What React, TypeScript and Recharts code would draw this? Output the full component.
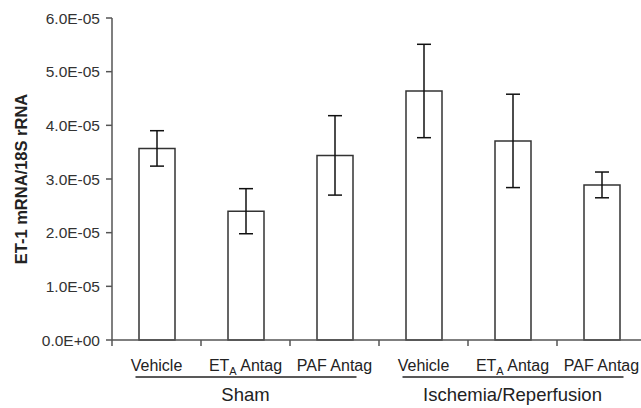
import { BarChart, Bar, XAxis, YAxis, ErrorBar } from 'recharts';

// treatment labels, in bar order
const treatments = ['Vehicle', 'ETA Antag', 'PAF Antag', 'Vehicle', 'ETA Antag', 'PAF Antag'];
// group names (each spans 3 bars)
const groups = ['Sham', 'Ischemia/Reperfusion'];
// ET-1 mRNA / 18S rRNA, mean and error
const means = [3.57e-5, 2.4e-5, 3.44e-5, 4.64e-5, 3.71e-5, 2.89e-5];
const errors = [0.33e-5, 0.42e-5, 0.74e-5, 0.87e-5, 0.87e-5, 0.24e-5];
const yTicks = [0, 1e-5, 2e-5, 3e-5, 4e-5, 5e-5, 6e-5];

const data = treatments.map((t, i) => ({ name: t, value: means[i], err: errors[i] }));

const BAND = 89;

function fmtSci(v: number) {
  const [m, e] = v.toExponential(1).split('e');
  const n = parseInt(e, 10);
  const sign = n < 0 ? '-' : '+';
  return `${m}E${sign}${String(Math.abs(n)).padStart(2, '0')}`;
}

function YTick(props: any) {
  const { x, y, payload } = props;
  return (
    <text x={x} y={y} dy="0.36em" textAnchor="end" fontSize={15.5} fill="#333">
      {fmtSci(payload.value)}
    </text>
  );
}

function XTick(props: any) {
  const { x, y, payload, index } = props;
  const label: string = payload.value;
  const half = BAND / 2;
  const isEt = label.startsWith('ETA');
  const groupIdx = index === 1 ? 0 : index === 4 ? 1 : -1;
  return (
    <g>
      <line x1={x - half} y1={y} x2={x - half} y2={y + 6} stroke="#555" strokeWidth={1.5} />
      {index === treatments.length - 1 && (
        <line x1={x + half} y1={y} x2={x + half} y2={y + 6} stroke="#555" strokeWidth={1.5} />
      )}
      <text x={x} y={y + 31} textAnchor="middle" fontSize={16} fill="#222">
        {isEt ? (
          <>
            <tspan>ET</tspan>
            <tspan dy={4} fontSize={11}>A</tspan>
            <tspan dy={-4}> Antag</tspan>
          </>
        ) : (
          label
        )}
      </text>
      {groupIdx >= 0 && (
        <>
          <line x1={x - 110} y1={y + 37} x2={x + 111} y2={y + 37} stroke="#222" strokeWidth={1.5} />
          <text x={x} y={y + 61} textAnchor="middle" fontSize={18.5} fill="#222">
            {groups[groupIdx]}
          </text>
        </>
      )}
    </g>
  );
}

export default function App() {
  return (
    <div
      style={{
        position: 'absolute',
        left: 0,
        top: 0,
        width: 641,
        height: 408,
        overflow: 'hidden',
        background: '#fff',
        fontFamily: '"Liberation Sans", Arial, sans-serif',
      }}
    >
      <BarChart
        width={660}
        height={408}
        data={data}
        margin={{ top: 18, right: 14, bottom: 8, left: 0 }}
      >
        <XAxis
          dataKey="name"
          height={60}
          interval={0}
          tickLine={false}
          tickSize={0}
          tickMargin={0}
          axisLine={{ stroke: '#555', strokeWidth: 1.5 }}
          tick={<XTick />}
        />
        <YAxis
          width={112}
          domain={[0, 6e-5]}
          ticks={yTicks}
          tickSize={6}
          tickMargin={6}
          tick={<YTick />}
          tickLine={{ stroke: '#555', strokeWidth: 1.5 }}
          axisLine={{ stroke: '#555', strokeWidth: 1.5 }}
          label={{
            value: 'ET-1 mRNA/18S rRNA',
            angle: -90,
            position: 'insideLeft',
            offset: 21,
            style: { textAnchor: 'middle', fontWeight: 'bold', fontSize: 16.5, fill: '#222' },
          }}
        />
        <Bar dataKey="value" barSize={36} fill="#fff" stroke="#333" strokeWidth={1.5} isAnimationActive={false}>
          <ErrorBar dataKey="err" width={7} stroke="#111" strokeWidth={1.5} isAnimationActive={false} />
        </Bar>
      </BarChart>
    </div>
  );
}
